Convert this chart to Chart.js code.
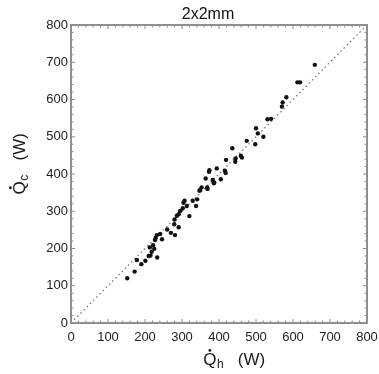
<!DOCTYPE html>
<html><head><meta charset="utf-8">
<script src="https://cdn.jsdelivr.net/npm/chart.js@4/dist/chart.umd.min.js"></script>
<style>html,body{margin:0;padding:0;background:#fff}#wrap{width:379px;height:374px}</style>
</head><body><div id="wrap"><canvas id="c" width="379" height="374"></canvas></div>
<script>
const titleText = "2x2mm";
const xTitle = ["Q", "h", "   (W)"];
const yTitle = ["Q", "c", "   (W)"];
const axisTicks = [0, 100, 200, 300, 400, 500, 600, 700, 800];
const qh = [152,172,178,190,201,210,215,213,218,225,222,227,233,229,232,241,246,260,270,281,291,279,280,286,291,295,302,304,307,313,320,329,338,341,347,349,353,364,368,369,373,374,383,386,387,405,394,416,418,419,436,444,445,459,462,475,498,500,505,520,531,541,570,572,582,612,619,659];
const qc = [120,138,169,158,167,180,181,203,191,199,209,223,176,229,236,239,225,251,242,236,257,265,278,288,292,301,308,323,328,314,287,328,314,332,355,357,364,388,364,360,406,410,384,375,377,386,415,409,403,438,469,433,442,449,444,489,480,523,509,500,547,548,581,592,606,646,646,693];
const diagX = [0, 800];
const diagY = [0, 800];

const pts = qh.map((v,i)=>({x:v,y:qc[i]}));
const diag = diagX.map((v,i)=>({x:v,y:diagY[i]}));
const FONT = '"Liberation Sans", Arial, sans-serif';

const framePlugin = {
  id:'frame',
  afterDatasetsDraw(chart){
    const {ctx, chartArea:a, scales:{x,y}} = chart;
    ctx.save();
    ctx.strokeStyle = '#8c8c8c';
    ctx.lineWidth = 1;
    for (let v=0; v<=800; v+=20){
      const major = v%100===0;
      const L = major?4:2.5;
      const px = x.getPixelForValue(v), py = y.getPixelForValue(v);
      ctx.beginPath();
      ctx.moveTo(px,a.bottom); ctx.lineTo(px,a.bottom-L);
      ctx.moveTo(px,a.top); ctx.lineTo(px,a.top+L);
      ctx.moveTo(a.left,py); ctx.lineTo(a.left+L,py);
      ctx.moveTo(a.right,py); ctx.lineTo(a.right-L,py);
      ctx.stroke();
    }
    ctx.lineWidth = 2;
    ctx.strokeStyle = '#8f8f8f';
    ctx.strokeRect(a.left, a.top, a.right-a.left, a.bottom-a.top);
    // title
    ctx.fillStyle = '#111';
    ctx.font = '16px ' + FONT;
    ctx.textAlign = 'center'; ctx.textBaseline = 'alphabetic';
    ctx.fillText(titleText, 208, 19);
    // axis titles
    function drawLabel(parts, big, small, sub){
      ctx.textAlign='left';
      ctx.font = big+'px '+FONT;
      const w0 = ctx.measureText(parts[0]).width;
      ctx.font = small+'px '+FONT;
      const w1 = ctx.measureText(parts[1]).width;
      ctx.font = big+'px '+FONT;
      const w2 = ctx.measureText(parts[2]).width;
      const tot = w0+w1+w2;
      let cx = -tot/2;
      ctx.fillText(parts[0], cx, 0);
      ctx.beginPath();
      ctx.arc(cx + w0/2, -big*0.86, 1.4, 0, Math.PI*2);
      ctx.fill();
      cx += w0;
      ctx.font = small+'px '+FONT;
      ctx.fillText(parts[1], cx+0.5, sub); cx += w1+0.5;
      ctx.font = big+'px '+FONT;
      ctx.fillText(parts[2], cx, 0);
    }
    ctx.fillStyle = '#1a1a1a';
    ctx.save();
    ctx.translate(234, 365);
    drawLabel(xTitle, 17, 12, 3);
    ctx.restore();
    ctx.save();
    ctx.translate(25, 164);
    ctx.rotate(-Math.PI/2);
    drawLabel(yTitle, 17, 12, 3);
    ctx.restore();
    ctx.restore();
  }
};

new Chart(document.getElementById('c'), {
  type:'scatter',
  data:{datasets:[
    {data:pts, backgroundColor:'#111', borderColor:'#111', pointRadius:2.2, pointBorderWidth:0, showLine:false, order:1},
    {data:diag, showLine:true, borderColor:'#777', borderWidth:1.3, borderDash:[1.5,3], pointRadius:0, order:2}
  ]},
  options:{
    responsive:false, animation:false,
    layout:{padding:{left:0,right:12,top:25,bottom:0}},
    plugins:{legend:{display:false}, tooltip:{enabled:false}, title:{display:false}},
    scales:{
      x:{type:'linear', min:0, max:800,
        afterBuildTicks(s){ s.ticks = axisTicks.map(v=>({value:v})); },
        afterFit(s){ s.height = 51; s.paddingRight = 0; s.paddingLeft = 0; },
        grid:{display:false, drawTicks:false}, border:{display:false},
        ticks:{color:'#222', font:{size:13, family:FONT}, padding:7, maxRotation:0}
      },
      y:{type:'linear', min:0, max:800,
        afterBuildTicks(s){ s.ticks = axisTicks.map(v=>({value:v})); },
        afterFit(s){ s.width = 71; s.paddingTop = 0; s.paddingBottom = 0; },
        grid:{display:false, drawTicks:false}, border:{display:false},
        ticks:{color:'#222', font:{size:13, family:FONT}, padding:3}
      }
    }
  },
  plugins:[framePlugin]
});
</script></body></html>
